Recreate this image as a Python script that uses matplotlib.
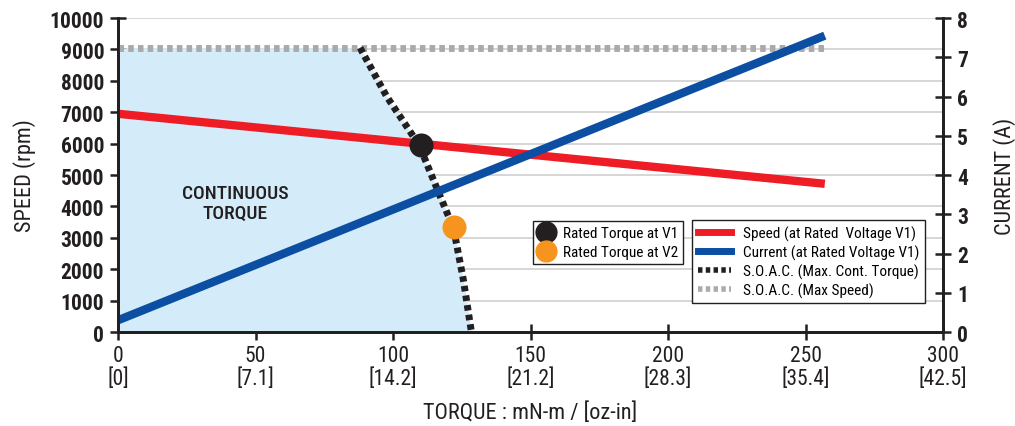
import numpy as np
import matplotlib.pyplot as plt
from matplotlib.lines import Line2D

# data
torque_line = [0, 257]
speed_line = [6950, 4720]          # rpm at rated voltage V1
current_line = [0.3, 7.55]         # A at rated voltage V1
max_speed = 9050
soac_torque = [88, 97.7, 109.5, 117, 122, 125.5, 128.5]
soac_speed = [9050, 7500, 5950, 4350, 3300, 1700, 0]
rated_v1 = (110, 5950)
rated_v2 = (122, 3350)
xticks = [0, 50, 100, 150, 200, 250, 300]
xtick_oz = ['0', '7.1', '14.2', '21.2', '28.3', '35.4', '42.5']

plt.rcParams['font.family'] = ['Roboto Condensed', 'DejaVu Sans']

red = '#ee1c25'
blue = '#0b4ea2'
dark = '#231f20'
orange = '#f7941d'
fill = '#d4ecf9'
gray = '#aaaaaa'

fig = plt.figure(figsize=(10.15, 4.27), dpi=100)
ax = fig.add_axes([0.1163, 0.2201, 0.8128, 0.7354])
ax2 = ax.twinx()
ax2.patch.set_visible(False)

# continuous torque region
fx = [0] + soac_torque
fy = [max_speed] + soac_speed
ax.fill_between(fx, fy, 0, color=fill, lw=0, zorder=1)

ax.plot([0, 257], [max_speed, max_speed], color=gray, lw=5, ls=(0, (0.8, 0.6)), zorder=3)
ax.plot(torque_line, speed_line, color=red, lw=6, solid_capstyle='butt', zorder=4)
ax.plot(soac_torque, soac_speed, color=dark, lw=5, ls=(0, (0.8, 0.6)), zorder=5)
ax.scatter(*rated_v1, s=300, color=dark, zorder=7, lw=0)
ax.scatter(*rated_v2, s=300, color=orange, zorder=7, lw=0)

ax2.plot(torque_line, current_line, color=blue, lw=6, solid_capstyle='butt', zorder=2)

ax.text(42.5, 4100, 'CONTINUOUS\nTORQUE', ha='center', va='center', fontsize=14,
        fontweight='medium', color=dark, linespacing=1.15)

ax.set_xlim(0, 300)
ax.set_ylim(0, 10000)
ax2.set_ylim(0, 8)
ax.set_xticks(xticks)
ax.set_xticklabels([f'{t}\n[{o}]' for t, o in zip(xticks, xtick_oz)])
ax.set_yticks(range(0, 10001, 1000))
ax2.set_yticks(range(0, 9))
ax.yaxis.grid(True, color='#d0d0d0', lw=1.2, zorder=0)
ax.set_axisbelow(True)

for a in (ax, ax2):
    a.tick_params(direction='inout', length=12, width=1.8, color=dark,
                  labelsize=15.5, labelcolor=dark, pad=4)
    for lbl in a.get_yticklabels():
        lbl.set_fontweight('bold')
    a.spines['top'].set_visible(False)
    for s in ('left', 'right', 'bottom'):
        a.spines[s].set_linewidth(2)
        a.spines[s].set_color(dark)
ax.tick_params(axis='x', pad=3)
for lbl in ax.get_xticklabels():
    lbl.set_fontweight('normal')
    lbl.set_linespacing(1.1)

ax.set_ylabel('SPEED (rpm)', fontsize=16, color=dark, labelpad=10)
ax2.set_ylabel('CURRENT (A)', fontsize=16, color=dark, labelpad=18)
ax.set_xlabel('TORQUE : mN-m / [oz-in]', fontsize=16, color=dark, labelpad=9)

h1 = [Line2D([], [], marker='o', color=dark, ls='', ms=15),
      Line2D([], [], marker='o', color=orange, ls='', ms=15)]
leg1 = ax2.legend(h1, ['Rated Torque at V1', 'Rated Torque at V2'], loc='upper left',
                  bbox_to_anchor=(0.503, 0.3535), frameon=True, fancybox=False,
                  edgecolor=dark, handlelength=1.0, handletextpad=0.6, borderpad=0.35,
                  labelspacing=0.3, borderaxespad=0, framealpha=1,
                  prop={'size': 11})
leg1.get_frame().set_linewidth(1)
ax2.add_artist(leg1)

h2 = [Line2D([], [], color=red, lw=5),
      Line2D([], [], color=blue, lw=5),
      Line2D([], [], color=dark, lw=4, ls=(0, (0.8, 0.6))),
      Line2D([], [], color=gray, lw=4, ls=(0, (0.8, 0.6)))]
leg2 = ax2.legend(h2, ['Speed (at Rated  Voltage V1)', 'Current (at Rated Voltage V1)',
                       'S.O.A.C. (Max. Cont. Torque)', 'S.O.A.C. (Max Speed)'],
                  loc='upper left', bbox_to_anchor=(0.696, 0.357),
                  frameon=True, fancybox=False, edgecolor=dark, handlelength=2.2,
                  handletextpad=0.8, borderpad=0.35, labelspacing=0.25, borderaxespad=0,
                  framealpha=1, prop={'size': 11})
leg2.get_frame().set_linewidth(1)

fig.savefig('out.png', dpi=100)
